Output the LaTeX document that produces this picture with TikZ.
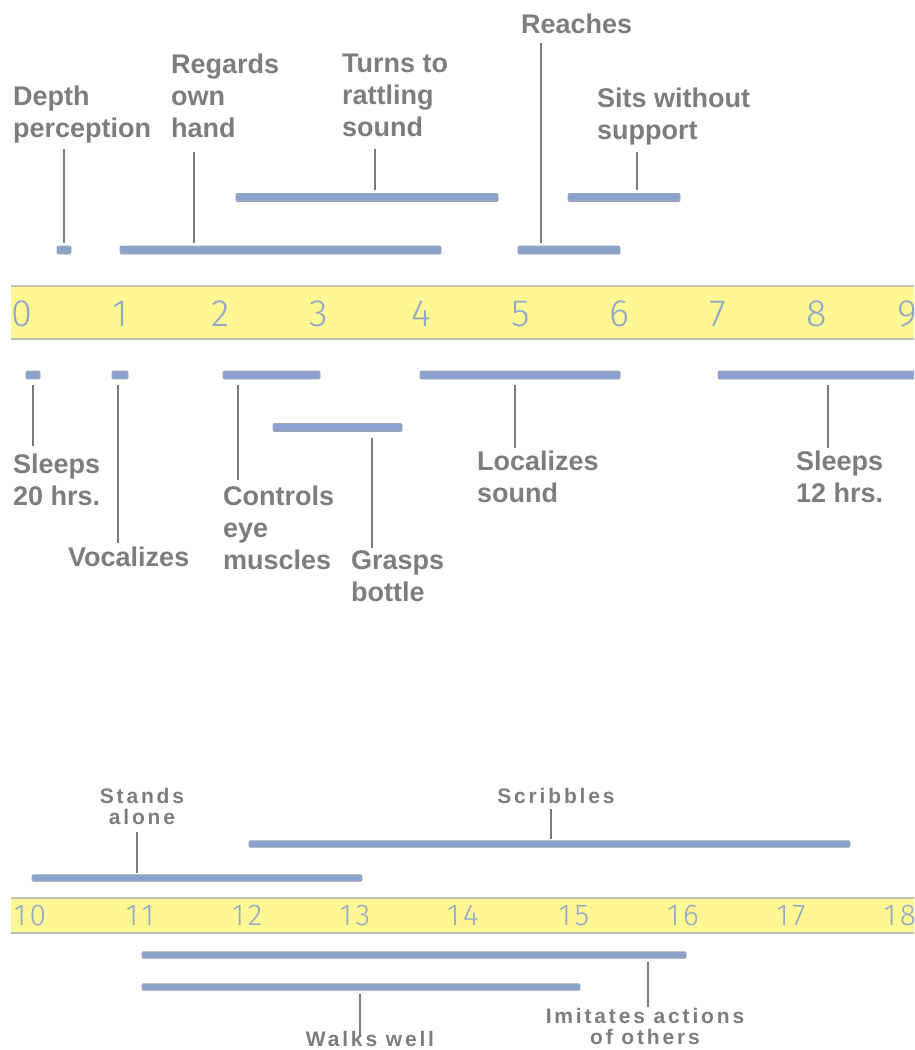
\documentclass[tikz,border=0pt]{standalone}
\usepackage{fontspec}
\setmainfont{Liberation Sans}
\newfontfamily\numfont{Fira Sans Light}
\newfontfamily\widenumfont[LetterSpace=12]{Fira Sans Light}
\newfontfamily\widefont[LetterSpace=13.5]{Liberation Sans}
\definecolor{bandyellow}{HTML}{FFF793}
\definecolor{bandedge}{HTML}{BDBDB0}
\definecolor{numblue}{HTML}{8FA7C9}
\definecolor{barblue}{HTML}{8BA2CC}
\definecolor{barline}{HTML}{9DA4B4}
\definecolor{labelgray}{HTML}{7D7D7D}
\definecolor{leadgray}{HTML}{7A7A7A}
\tikzset{bar/.style={draw=barline, line width=0.6pt, fill=barblue, rounded corners=1pt, inner sep=0pt, outer sep=0pt, minimum height=8pt}}
\tikzset{thinbar/.style={bar, minimum height=6.5pt}}
\tikzset{leader/.style={draw=leadgray, line width=2.6pt}}
\tikzset{milestone/.style={inner sep=0pt, align=left, anchor=north west, text=labelgray, font=\fontsize{27}{32}\selectfont\bfseries}}
\tikzset{smallmilestone/.style={inner sep=0pt, align=center, anchor=north, text=labelgray, font=\widefont\fontsize{21}{21}\selectfont\bfseries}}
\tikzset{month/.style={text=numblue, font=\numfont\fontsize{38}{38}\selectfont}}
\tikzset{widemonth/.style={text=numblue, font=\widenumfont\fontsize{30}{30}\selectfont}}
\newcommand{\timebar}[5][bar]{\node[#1, minimum width={#4-#3}] (#2) at ({(#3+#4)/2}, #5) {};}

\begin{document}
\begin{tikzpicture}[x=1pt, y=-1pt]
      \clip (0,0) rectangle (914,1050);

      % month bands
      \fill[bandyellow] (11,286) rectangle (914,339);
      \draw[bandedge, line width=1.4pt] (11,286) -- (914,286) (11,339) -- (914,339);
      \fill[bandyellow] (11,898) rectangle (914,933);
      \draw[bandedge, line width=1.4pt] (11,898) -- (914,898) (11,933) -- (914,933);

      \foreach \m/\x in {0/22,1/120,2/221,3/319,4/421,5/521,6/619,7/718,8/817,9/907}
        \node[month] (m\m) at (\x, 314) {\m};
      \foreach \m/\x in {10/30,11/140,12/247,13/355,14/463,15/574,16/683,17/791,18/900}
        \node[widemonth] (m\m) at (\x, 915.5) {\m};

      % bars, first year
      \timebar{bDepth}{57}{71}{250}
      \timebar{bRegards}{120}{441}{250}
      \timebar{bTurns}{236}{498}{197.5}
      \timebar{bReaches}{518}{620}{250}
      \timebar{bSits}{568}{680}{197.5}
      \timebar{bSleepsA}{26}{40}{375}
      \timebar{bVocal}{112}{128}{375}
      \timebar{bControls}{223}{320}{375}
      \timebar{bGrasps}{273}{402}{427.5}
      \timebar{bLocal}{420}{620}{375}
      \timebar{bSleepsB}{718}{925}{375}

      % bars, second year
      \timebar[thinbar]{bStands}{32}{362}{878}
      \timebar[thinbar]{bScribbles}{249}{850}{844}
      \timebar[thinbar]{bImitates}{142}{686}{955}
      \timebar[thinbar]{bWalks}{142}{580}{987}

      % labels
      \node[milestone] (lDepth) at (13,86) {Depth\\perception};
      \node[milestone] (lRegards) at (171,54) {Regards\\own\\hand};
      \node[milestone] (lTurns) at (342,54) {Turns to\\rattling\\sound};
      \node[milestone] (lReaches) at (521,14) {Reaches};
      \node[milestone] (lSits) at (597,88) {Sits without\\support};
      \node[milestone] (lSleepsA) at (13,454) {Sleeps\\20 hrs.};
      \node[milestone] (lVocal) at (68,547) {Vocalizes};
      \node[milestone] (lControls) at (223,486) {Controls\\eye\\muscles};
      \node[milestone] (lGrasps) at (351,550) {Grasps\\bottle};
      \node[milestone] (lLocal) at (477,451) {Localizes\\sound};
      \node[milestone] (lSleepsB) at (796,451) {Sleeps\\12 hrs.};

      \node[smallmilestone] (lStands) at (142,788) {Stands\\alone};
      \node[smallmilestone] (lScribbles) at (556,788) {Scribbles};
      \node[smallmilestone] (lImitates) at (645,1008) {Imitates actions\\of others};
      \node[smallmilestone] (lWalks) at (370,1031) {Walks well};

      % leader lines
      \coordinate (cDepth) at (64,149);
      \coordinate (cRegards) at (194,152);
      \coordinate (cTurns) at (375,149);
      \coordinate (cReaches) at (541,43);
      \coordinate (cSits) at (637,152);
      \draw[leader, shorten >=3.5pt] (cDepth) -- (cDepth |- bDepth.north);
      \draw[leader, shorten >=3.5pt] (cRegards) -- (cRegards |- bRegards.north);
      \draw[leader, shorten >=3.5pt] (cTurns) -- (cTurns |- bTurns.north);
      \draw[leader, shorten >=3.5pt] (cReaches) -- (cReaches |- bReaches.north);
      \draw[leader, shorten >=3.5pt] (cSits) -- (cSits |- bSits.north);

      \coordinate (cSleepsA) at (33,446);
      \coordinate (cVocal) at (118,543);
      \coordinate (cControls) at (238,480);
      \coordinate (cGrasps) at (372,548);
      \coordinate (cLocal) at (515,448);
      \coordinate (cSleepsB) at (828,448);
      \draw[leader, shorten >=6pt] (cSleepsA) -- (cSleepsA |- bSleepsA.south);
      \draw[leader, shorten >=6pt] (cVocal) -- (cVocal |- bVocal.south);
      \draw[leader, shorten >=6pt] (cControls) -- (cControls |- bControls.south);
      \draw[leader, shorten >=6pt] (cGrasps) -- (cGrasps |- bGrasps.south);
      \draw[leader, shorten >=6pt] (cLocal) -- (cLocal |- bLocal.south);
      \draw[leader, shorten >=6pt] (cSleepsB) -- (cSleepsB |- bSleepsB.south);

      \coordinate (cStands) at (137,832);
      \coordinate (cScribbles) at (551,809);
      \coordinate (cImitates) at (648,1007);
      \coordinate (cWalks) at (360,1037);
      \draw[leader, shorten >=2pt] (cStands) -- (cStands |- bStands.north);
      \draw[leader, shorten >=2pt] (cScribbles) -- (cScribbles |- bScribbles.north);
      \draw[leader, shorten >=4pt] (cImitates) -- (cImitates |- bImitates.south);
      \draw[leader, shorten >=4pt] (cWalks) -- (cWalks |- bWalks.south);
\end{tikzpicture}
\end{document}
